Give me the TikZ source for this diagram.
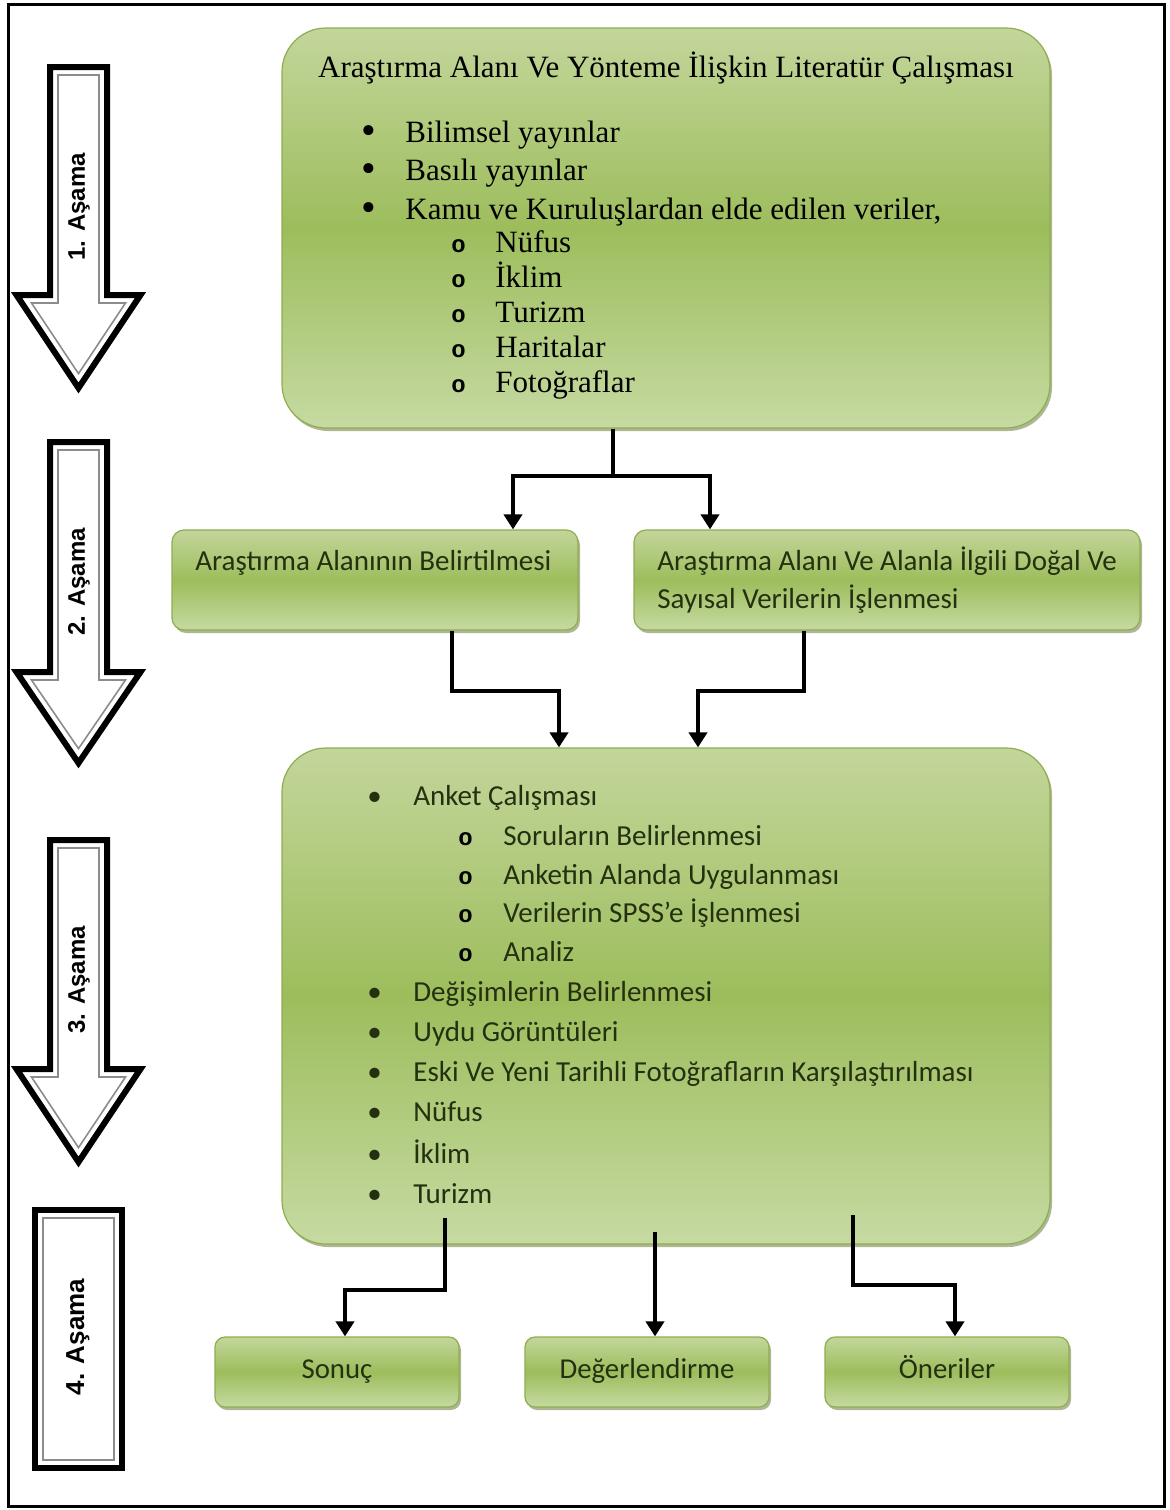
\documentclass[tikz,border=0pt]{standalone}
\usepackage{fontspec}
\setmainfont{Liberation Serif}
\setsansfont{Carlito}
\setmonofont{Liberation Mono}
\newfontfamily\stagefont{Liberation Sans}
\usetikzlibrary{arrows.meta,shadows}

\definecolor{boxtop}{HTML}{C3D69B}
\definecolor{boxmid}{HTML}{9DBD5C}
\definecolor{boxbot}{HTML}{C6DAA2}
\definecolor{boxedge}{HTML}{8DAE4E}
\definecolor{boxshade}{HTML}{5E6E2E}
\definecolor{textgreen}{HTML}{243010}

\begin{document}
\begin{tikzpicture}[x=0.5pt,y=-0.5pt,
		phase/.style={draw=boxedge,line width=0.6pt,inner sep=0pt,
			top color=boxtop,bottom color=boxbot,middle color=boxmid,
			drop shadow={shadow xshift=1pt,shadow yshift=-1.5pt,fill=boxshade,opacity=.5}},
		endbox/.style={phase,rounded corners=5pt,minimum width=122pt,minimum height=35pt,
			font=\sffamily\fontsize{14.4}{17}\selectfont,text=textgreen,text height=10pt,text depth=4pt},
		serifline/.style={font=\fontsize{15.5}{18}\selectfont,text=black,anchor=base west,inner sep=0pt},
		sansline/.style={font=\sffamily\fontsize{14.5}{17}\selectfont,text=textgreen,anchor=base west,inner sep=0pt},
		bigdot/.style={serifline,font=\fontsize{21}{22}\selectfont},
		ring/.style={serifline,font=\ttfamily\bfseries\fontsize{12}{14}\selectfont},
		stageline/.style={draw=black,line width=3pt,line join=miter},
		stageinner/.style={draw=black!45,line width=0.8pt,line join=miter},
		stagelabel/.style={font=\stagefont\bfseries\fontsize{12}{14}\selectfont,rotate=90,inner sep=0pt},
		link/.style={draw=black,line width=2pt,-{Triangle[width=9pt,length=7.5pt]}}]
		\useasboundingbox (0,0) rectangle (1170,1510);
		\draw[line width=1.5pt] (8,4) rectangle (1164,1506);
		
		% stage arrows
		\foreach \ytop/\yhead/\ytip/\ylab/\lab in {67/295/388/207/1,442/672/763/582/2,840/1069/1162/980/3}{
			\draw[stageline] (50,\ytop) -- (107,\ytop) -- (107,\yhead) -- (140.5,\yhead) -- (78.5,\ytip) -- (16.5,\yhead) -- (50,\yhead) -- cycle;
			\draw[stageinner] (58,{\ytop+8}) -- (99,{\ytop+8}) -- (99,{\yhead+8}) -- (125.5,{\yhead+8}) -- (78.5,{\ytip-14.4}) -- (31.5,{\yhead+8}) -- (58,{\yhead+8}) -- cycle;
			\node[stagelabel] (stage\lab) at (79,\ylab) {\lab. Aşama};
		}
		\draw[stageline] (35,1210) rectangle (122,1468);
		\draw[stageinner] (43,1218) rectangle (114,1460);
		\node[stagelabel,font=\stagefont\bfseries\fontsize{13}{15}\selectfont] (stage4) at (78,1337) {4. Aşama};
		
		% boxes
		\node[phase,rounded corners=22pt,minimum width=384pt,minimum height=200pt] (lit) at (666,228) {};
		\node[phase,rounded corners=6pt,minimum width=203pt,minimum height=50pt] (area) at (375,580) {};
		\node[phase,rounded corners=6pt,minimum width=253pt,minimum height=50pt] (data) at (887,580) {};
		\node[phase,rounded corners=22pt,minimum width=384pt,minimum height=248pt] (obs) at (666,996) {};
		\node[endbox] (result) at (337,1372) {Sonuç};
		\node[endbox] (assess) at (647,1372) {Değerlendirme};
		\node[endbox] (advice) at (947,1372) {Öneriler};
		
		% texts of the first box
		\node[serifline,anchor=base] (littitle) at (666,77) {Araştırma Alanı Ve Yönteme İlişkin Literatür Çalışması};
		\foreach \y/\t [count=\i] in {142/Bilimsel yayınlar,180/Basılı yayınlar,219/{Kamu ve Kuruluşlardan elde edilen veriler,}}{
			\node[bigdot] (litdot\i) at (361,{\y+2}) {•};
			\node[serifline] (lititem\i) at (405,\y) {\t};
		}
		\foreach \y/\t [count=\i] in {252/Nüfus,287/İklim,322/Turizm,357/Haritalar,392/Fotoğraflar}{
			\node[ring] (litring\i) at (451,\y) {o};
			\node[serifline] (litsub\i) at (495,\y) {\t};
		}
		
		% texts of the second stage
		\node[sansline] (areatext) at (195,570) {Araştırma Alanının Belirtilmesi};
		\node[sansline] (datatext1) at (657,570) {Araştırma Alanı Ve Alanla İlgili Doğal Ve};
		\node[sansline] (datatext2) at (657,608) {Sayısal Verilerin İşlenmesi};
		
		% texts of the third box
		\node[sansline] (obsdot0) at (367,805) {•};
		\node[sansline] (obsitem0) at (413,805) {Anket Çalışması};
		\foreach \y/\t [count=\i] in {845/Soruların Belirlenmesi,884/Anketin Alanda Uygulanması,922/Verilerin SPSS’e İşlenmesi,961/Analiz}{
			\node[ring] (obsring\i) at (458,\y) {o};
			\node[sansline] (obssub\i) at (503,\y) {\t};
		}
		\foreach \y/\t [count=\i] in {1001/Değişimlerin Belirlenmesi,1041/Uydu Görüntüleri,1081/Eski Ve Yeni Tarihli Fotoğrafların Karşılaştırılması,1121/Nüfus,1163/İklim,1203/Turizm}{
			\node[sansline] (obsdot\i) at (367,\y) {•};
			\node[sansline] (obsitem\i) at (413,\y) {\t};
		}
		
		% connectors
		\coordinate (fork) at (613,476);
		\coordinate (mergeL) at (559,691);
		\coordinate (mergeR) at (698,691);
		\coordinate (outL) at (445,1218);
		\coordinate (outM) at (655,1232);
		\coordinate (outR) at (853,1215);
		\coordinate (turnL) at (345,1290);
		\coordinate (turnR) at (955,1285);
		\draw[link] (lit.south -| fork) -- (fork) -| (area.north -| 513,0);
		\draw[link] (fork) -| (data.north -| 710,0);
		\draw[link] (area.south -| 452,0) |- (mergeL) -- (obs.north -| mergeL);
		\draw[link] (data.south -| 804,0) |- (mergeR) -- (obs.north -| mergeR);
		\draw[link] (outL) |- (turnL) -- (result.north -| turnL);
		\draw[link] (outM) -- (assess.north -| outM);
		\draw[link] (outR) |- (turnR) -- (advice.north -| turnR);
	\end{tikzpicture}
\end{document}
